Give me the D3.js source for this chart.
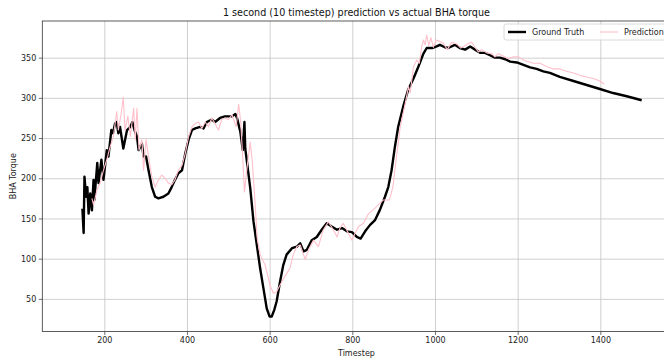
<!DOCTYPE html>
<html>
<head>
<meta charset="utf-8">
<script src="https://cdn.jsdelivr.net/npm/d3@7"></script>
<style>
  body { margin: 0; background: #fff; }
  svg { font-family: "DejaVu Sans", sans-serif; }
</style>
</head>
<body>
<svg id="chart" width="664" height="360"></svg>
<script>
// ground truth (timestep, torque)
var gtSteps = [147,150,152,156,159,162,166,170,174,176,183,186,193,198,206,210,217,221,226,230,234,238,246,255,263,268,273,279,283,291,295,301,307,315,323,331,343,355,363,371,379,388,396,404,412,420,432,440,448,460,468,480,492,509,517,521,529,535,539,541,545,553,561,569,577,585,593,600,605,611,617,625,633,641,654,666,674,682,690,702,714,726,738,750,763,775,787,799,811,820,831,843,855,867,879,887,895,903,911,923,935,948,960,972,980,993,1004,1012,1024,1032,1048,1060,1073,1085,1097,1109,1121,1133,1145,1157,1170,1182,1198,1214,1230,1246,1262,1278,1302,1335,1367,1399,1431,1464,1500];
var gtValues = [162,132,202,177,189,156,181,160,198,173,219,194,223,198,235,227,260,256,268,270,256,264,237,260,264,270,260,252,235,243,227,227,210,189,177,175,177,181,189,198,206,210,231,248,260,262,264,262,270,273,270,275,277,277,280,275,258,235,270,237,221,188,146,117,88,63,38,28,28,36,47,71,92,105,113,115,119,109,111,123,127,136,144,140,136,138,134,133,127,125,134,142,148,161,177,189,210,239,264,289,310,324,339,355,362,362,364,366,363,362,366,362,360,364,360,356,356,353,350,350,348,345,344,341,338,336,333,331,326,321,316,311,306,302,297];

// prediction (timestep, torque)
var predSteps = [170,174,182,190,198,206,214,222,230,234,241,246,250,257,263,271,275,279,284,291,295,301,307,315,323,331,339,347,355,363,371,379,388,396,404,412,420,428,436,444,452,460,468,476,484,492,500,509,519,525,530,535,539,545,553,558,565,570,577,589,601,609,617,625,637,649,657,666,674,680,686,694,706,718,730,742,754,763,770,778,788,799,807,815,827,839,851,863,875,890,898,906,916,928,936,940,948,956,962,968,972,976,980,985,990,996,1003,1012,1020,1030,1040,1053,1062,1070,1081,1089,1097,1105,1113,1125,1137,1145,1153,1165,1177,1190,1202,1214,1226,1238,1254,1270,1286,1302,1318,1335,1351,1367,1383,1399,1409];
var predValues = [175,167,185,194,210,223,239,252,283,260,281,301,260,277,252,287,248,287,235,248,210,248,227,202,189,198,204,200,194,192,198,210,216,231,252,264,268,270,262,270,264,275,268,260,273,275,273,279,264,292,270,225,183,212,245,221,167,125,105,92,67,57,59,67,78,88,105,115,117,108,99,111,123,115,136,146,136,127,138,144,134,123,132,140,144,156,161,167,173,173,189,223,264,293,314,306,339,347,343,364,372,366,378,365,375,363,372,370,368,360,369,367,362,364,368,369,363,357,360,356,355,351,355,352,349,351,351,347,345,343,343,339,336,336,333,331,328,326,324,321,317];

var xTicks = [200,400,600,800,1000,1200,1400];
var yTicks = [50,100,150,200,250,300,350];

var titleText = "1 second (10 timestep) prediction vs actual BHA torque";
var xLabel = "Timestep";
var yLabel = "BHA Torque";

var svg = d3.select("#chart");
var plotL = 42.3, plotR = 670.6, plotT = 21, plotB = 331.5;

var x = d3.scaleLinear().domain([50, 1570]).range([plotL, plotR]);
var y = d3.scaleLinear().domain([9.4, 395.6]).range([plotB, plotT]);

// grid
svg.append("g")
    .attr("transform", "translate(0," + plotB + ")")
    .call(d3.axisBottom(x).tickValues(xTicks).tickSize(-(plotB - plotT)).tickFormat(""))
    .call(g => g.select(".domain").remove())
    .selectAll("line").attr("stroke", "#c4c4c4").attr("stroke-width", 0.8);

svg.append("g")
    .attr("transform", "translate(" + plotL + ",0)")
    .call(d3.axisLeft(y).tickValues(yTicks).tickSize(-(plotR - plotL)).tickFormat(""))
    .call(g => g.select(".domain").remove())
    .selectAll("line").attr("stroke", "#c4c4c4").attr("stroke-width", 0.8);

// lines
svg.append("clipPath").attr("id", "clip")
    .append("rect").attr("x", plotL).attr("y", plotT).attr("width", plotR - plotL).attr("height", plotB - plotT);

var gt = gtSteps.map((t, i) => [t, gtValues[i]]);
var pred = predSteps.map((t, i) => [t, predValues[i]]);
var line = d3.line().x(d => x(d[0])).y(d => y(d[1]));

svg.append("path").datum(gt)
    .attr("clip-path", "url(#clip)")
    .attr("d", line)
    .attr("fill", "none")
    .attr("stroke", "#000")
    .attr("stroke-width", 2.4)
    .attr("stroke-linejoin", "round");

svg.append("path").datum(pred)
    .attr("clip-path", "url(#clip)")
    .attr("d", line)
    .attr("fill", "none")
    .attr("stroke", "pink")
    .attr("stroke-width", 1.1)
    .attr("stroke-linejoin", "round");

// axes
var xAxis = svg.append("g")
    .attr("transform", "translate(0," + plotB + ")")
    .call(d3.axisBottom(x).tickValues(xTicks).tickFormat(d3.format("d")).tickSize(3.5).tickPadding(2.5));
var yAxis = svg.append("g")
    .attr("transform", "translate(" + plotL + ",0)")
    .call(d3.axisLeft(y).tickValues(yTicks).tickFormat(d3.format("d")).tickSize(3.5).tickPadding(2.5));

[xAxis, yAxis].forEach(g => {
    g.select(".domain").remove();
    g.selectAll("line").attr("stroke", "#333").attr("stroke-width", 0.7);
    g.selectAll("text").attr("fill", "#222").style("font-size", "8px").style("font-family", "DejaVu Sans");
});

// frame
svg.append("rect")
    .attr("x", plotL).attr("y", plotT)
    .attr("width", plotR - plotL).attr("height", plotB - plotT)
    .attr("fill", "none").attr("stroke", "#333").attr("stroke-width", 0.8);

// labels
svg.append("text").attr("x", (plotL + plotR) / 2).attr("y", 16)
    .attr("text-anchor", "middle").style("font-size", "9.6px").attr("fill", "#111")
    .text(titleText);

svg.append("text").attr("x", (plotL + plotR) / 2).attr("y", 356)
    .attr("text-anchor", "middle").style("font-size", "8px").attr("fill", "#222")
    .text(xLabel);

svg.append("text")
    .attr("transform", "translate(16," + ((plotT + plotB) / 2) + ") rotate(-90)")
    .attr("text-anchor", "middle").style("font-size", "8px").attr("fill", "#222")
    .text(yLabel);

// legend
var lg = svg.append("g");
lg.append("rect")
    .attr("x", 504).attr("y", 24).attr("width", 180).attr("height", 16)
    .attr("rx", 2).attr("fill", "#fff").attr("fill-opacity", 0.8)
    .attr("stroke", "#d0d0d0").attr("stroke-width", 0.8);

var items = [
    { name: "Ground Truth", color: "#000", width: 2.4, x0: 508 },
    { name: "Prediction", color: "pink", width: 1.1, x0: 600 }
];
items.forEach(it => {
    lg.append("line").attr("x1", it.x0).attr("x2", it.x0 + 18)
        .attr("y1", 32).attr("y2", 32)
        .attr("stroke", it.color).attr("stroke-width", it.width);
    lg.append("text").attr("x", it.x0 + 24).attr("y", 35)
        .style("font-size", "8px").attr("fill", "#222").text(it.name);
});
</script>
</body>
</html>
